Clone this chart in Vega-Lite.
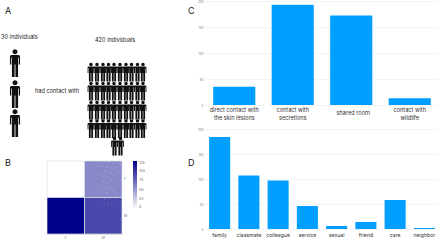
{
"$schema":"https://vega.github.io/schema/vega-lite/v6.json",
"padding":0,
"background":"white",
"spacing":-7,
"bounds":"full",
"config":{"view":{"stroke":null},"font":"Inter","concat":{"spacing":0}},
"hconcat":[
{"spacing":0,"bounds":"flush","vconcat":[
{"width":204,"height":160,
 "layer":[
 {"data":{"values":[
  {"px":15,"py":62},{"px":15,"py":93},{"px":15,"py":122}]},
  "mark":{"type":"point","filled":true,"color":"#111111","opacity":1,"size":784,"shape":"M-0.18,-0.8 A0.18,0.18 0 1 1 0.18,-0.8 A0.18,0.18 0 1 1 -0.18,-0.8 Z M-0.36,-0.46 Q-0.36,-0.58 -0.26,-0.58 L0.26,-0.58 Q0.36,-0.58 0.36,-0.46 L0.36,0.1 L0.27,0.1 L0.27,-0.4 L0.22,-0.4 L0.22,1 L0.03,1 L0.03,0.1 L-0.03,0.1 L-0.03,1 L-0.22,1 L-0.22,-0.4 L-0.27,-0.4 L-0.27,0.1 L-0.36,0.1 Z"},
  "encoding":{"x":{"field":"px","type":"quantitative","scale":{"domain":[0,204],"nice":false},"axis":null},"y":{"field":"py","type":"quantitative","scale":{"domain":[160,0],"nice":false},"axis":null}}},
 {"data":{"values":[
  {"px":91,"py":71},{"px":97,"py":71},{"px":103,"py":71},{"px":108.5,"py":71},{"px":114,"py":71},{"px":120,"py":71},{"px":126,"py":71},{"px":131.5,"py":71},{"px":137.5,"py":71},{"px":143,"py":71},
  {"px":91,"py":90},{"px":97,"py":90},{"px":103,"py":90},{"px":108.5,"py":90},{"px":114,"py":90},{"px":120,"py":90},{"px":126,"py":90},{"px":131.5,"py":90},{"px":137.5,"py":90},{"px":143,"py":90},
  {"px":91,"py":109},{"px":97,"py":109},{"px":103,"py":109},{"px":108.5,"py":109},{"px":114,"py":109},{"px":120,"py":109},{"px":126,"py":109},{"px":131.5,"py":109},{"px":137.5,"py":109},{"px":143,"py":109},
  {"px":91,"py":127.5},{"px":97,"py":127.5},{"px":103,"py":127.5},{"px":108.5,"py":127.5},{"px":114,"py":127.5},{"px":120,"py":127.5},{"px":126,"py":127.5},{"px":131.5,"py":127.5},{"px":137.5,"py":127.5},{"px":143,"py":127.5},
  {"px":114.5,"py":145},{"px":120.5,"py":145}]},
  "mark":{"type":"point","filled":true,"color":"#111111","opacity":1,"size":361,"shape":"M-0.18,-0.8 A0.18,0.18 0 1 1 0.18,-0.8 A0.18,0.18 0 1 1 -0.18,-0.8 Z M-0.36,-0.46 Q-0.36,-0.58 -0.26,-0.58 L0.26,-0.58 Q0.36,-0.58 0.36,-0.46 L0.36,0.1 L0.27,0.1 L0.27,-0.4 L0.22,-0.4 L0.22,1 L0.03,1 L0.03,0.1 L-0.03,0.1 L-0.03,1 L-0.22,1 L-0.22,-0.4 L-0.27,-0.4 L-0.27,0.1 L-0.36,0.1 Z"},
  "encoding":{"x":{"field":"px","type":"quantitative","scale":{"domain":[0,204],"nice":false},"axis":null},"y":{"field":"py","type":"quantitative","scale":{"domain":[160,0],"nice":false},"axis":null}}},
 {"data":{"values":[
  {"px":1,"py":36,"t":"30 individuals"},{"px":95,"py":39,"t":"420 individuals"},{"px":35,"py":90,"t":"had contact with"}]},
  "mark":{"type":"text","align":"left","baseline":"middle","fontSize":5.6,"color":"#222222","font":"Inter"},
  "encoding":{"x":{"field":"px","type":"quantitative","scale":{"domain":[0,204],"nice":false},"axis":null},"y":{"field":"py","type":"quantitative","scale":{"domain":[160,0],"nice":false},"axis":null},"text":{"field":"t"}}},
 {"data":{"values":[
  {"px":5,"py":10,"t":"A"},{"px":188,"py":10,"t":"C"},{"px":188,"py":162,"t":"D"},{"px":5,"py":162,"t":"B"}]},
  "mark":{"type":"text","align":"left","baseline":"middle","fontSize":9,"color":"#222222","font":"Inter","clip":false},
  "encoding":{"x":{"field":"px","type":"quantitative","scale":{"domain":[0,204],"nice":false},"axis":null},"y":{"field":"py","type":"quantitative","scale":{"domain":[160,0],"nice":false},"axis":null},"text":{"field":"t"}}}
 ]},
 {"spacing":0,"resolve":{"scale":{"color":"independent"}},"hconcat":[
  {"width":46,"height":73,
   "data":{"values":[{"blank":1}]},
   "mark":{"type":"rect","opacity":0},
   "encoding":{}},
  {"width":75,"height":73,
   "resolve":{"scale":{"x":"independent","y":"independent"},"axis":{"x":"independent","y":"independent"}},
   "layer":[
   {"data":{"values":[
    {"a":"F","b":"F","n":0},{"a":"M","b":"F","n":58},{"a":"F","b":"M","n":125},{"a":"M","b":"M","n":89}]},
   "mark":{"type":"rect","stroke":"#e2e2ee","strokeWidth":0.7},
   "encoding":{
    "x":{"field":"a","type":"nominal","scale":{"paddingInner":0,"paddingOuter":0},"axis":{"title":null,"labelAngle":0,"labelFontSize":3.5,"labelColor":"#777777","ticks":false,"labelPadding":1,"domainColor":"#dddddd"}},
    "y":{"field":"b","type":"nominal","scale":{"paddingInner":0,"paddingOuter":0},"axis":{"orient":"right","title":null,"labelFontSize":3.5,"labelColor":"#777777","ticks":false,"labelPadding":1.5,"domain":false}},
    "color":{"field":"n","type":"quantitative","scale":{"domain":[0,125],"range":["#ffffff","#00008b"],"interpolate":"rgb"},
     "legend":{"title":null,"orient":"right","gradientLength":48,"gradientThickness":4,"values":[0,25,50,75,100,125],"labelFontSize":3.5,"labelColor":"#666666","offset":6,"gradientStrokeWidth":0}}
   }},
   {"data":{"values":[
    {"u":62,"v":1},{"u":66,"v":2},{"u":70,"v":1.5},{"u":73,"v":3},{"u":55,"v":5},{"u":60,"v":6},{"u":65,"v":7},{"u":69,"v":6},{"u":58,"v":10},{"u":63,"v":11},{"u":71,"v":10},{"u":53,"v":14},{"u":57,"v":15},{"u":61,"v":16},{"u":67,"v":14},{"u":56,"v":20},{"u":60,"v":21},{"u":64,"v":19},{"u":70,"v":22},{"u":54,"v":25},{"u":58,"v":27},{"u":63,"v":26},{"u":56,"v":31},{"u":60,"v":32},{"u":66,"v":30},{"u":54,"v":36},{"u":58,"v":38},{"u":62,"v":37},{"u":69,"v":35},{"u":57,"v":42},{"u":61,"v":43},{"u":65,"v":41}]},
   "mark":{"type":"point","filled":true,"color":"#ffffff","opacity":0.4,"size":1.5},
   "encoding":{
    "x":{"field":"u","type":"quantitative","scale":{"domain":[0,75],"nice":false},"axis":null},
    "y":{"field":"v","type":"quantitative","scale":{"domain":[73,0],"nice":false},"axis":null}
   }}
   ]}
 ]}
]},
{"spacing":24,"bounds":"flush","vconcat":[
 {"width":234,"height":104,
  "data":{"values":[
   {"c":"direct contact with the skin lesions","n":35},{"c":"contact with secretions","n":193},{"c":"shared room","n":172},{"c":"contact with wildlife","n":13}]},
  "mark":{"type":"bar","color":"#009fff"},
  "encoding":{
   "x":{"field":"c","type":"nominal","sort":null,"scale":{"paddingInner":0.28,"paddingOuter":0.14},"axis":{"title":null,"labelAngle":0,"labelFontSize":5.6,"labelColor":"#333333","ticks":false,"domain":false,"labelLimit":0,"labelPadding":{"condition":{"test":"datum.value=='shared room'","value":5.5},"value":2.5},"labelOffset":{"condition":{"test":"datum.value=='shared room'","value":2},"value":0},"labelExpr":"datum.value=='direct contact with the skin lesions'?['direct contact with','the skin lesions']:datum.value=='contact with secretions'?['contact with','secretions']:datum.value=='contact with wildlife'?['contact with','wildlife']:datum.value"}},
   "y":{"field":"n","type":"quantitative","scale":{"domain":[0,200],"nice":false},"axis":{"title":null,"values":[0,50,100,150,200],"labelFontSize":3,"labelColor":"#777777","ticks":false,"domain":false,"labelPadding":2,"gridColor":"#eeeeee","gridDash":[2,1]}}
  }},
 {"width":234,"height":100,
  "data":{"values":[
   {"c":"family","n":184},{"c":"classmate","n":107},{"c":"colleague","n":97},{"c":"service","n":46},{"c":"sexual","n":6},{"c":"friend","n":14},{"c":"care","n":58},{"c":"neighbor","n":2}]},
  "mark":{"type":"bar","color":"#009fff"},
  "encoding":{
   "x":{"field":"c","type":"nominal","sort":null,"scale":{"paddingInner":0.28,"paddingOuter":0.14},"axis":{"title":null,"labelAngle":0,"labelFontSize":5.2,"labelColor":"#333333","ticks":false,"domain":false,"labelPadding":3}},
   "y":{"field":"n","type":"quantitative","scale":{"domain":[0,200],"nice":false},"axis":{"title":null,"values":[0,50,100,150,200],"labelFontSize":3,"labelColor":"#777777","ticks":false,"domain":false,"labelPadding":2,"gridColor":"#eeeeee","gridDash":[2,1]}}
  }}
]}
]
}
